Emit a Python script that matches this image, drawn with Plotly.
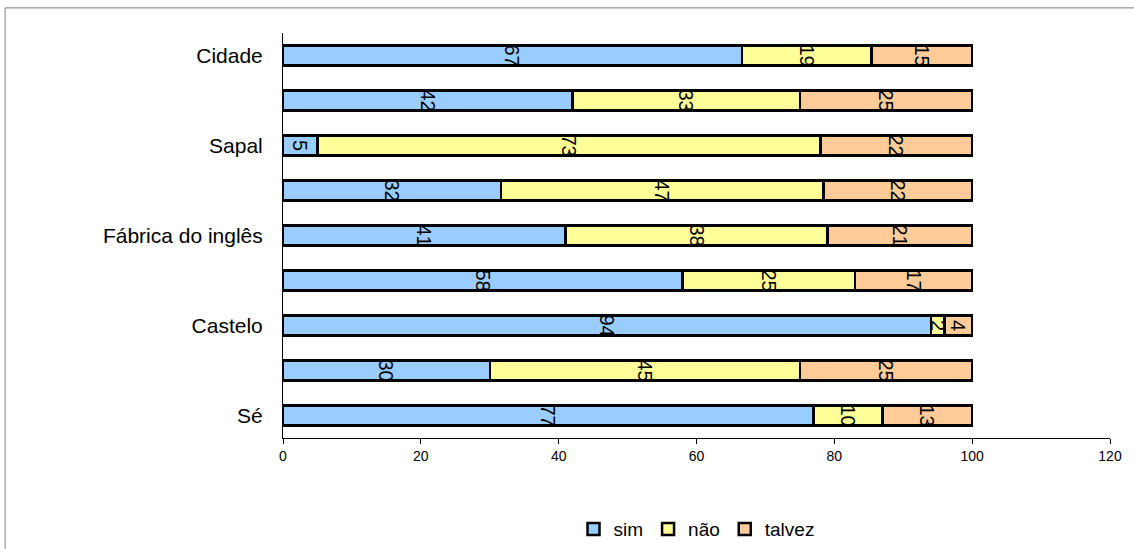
import plotly.graph_objects as go

# Categories from bottom to top; only every other one carries a visible label
categories = ["Sé", "", "Castelo", "", "Fábrica do inglês", "", "Sapal", "", "Cidade"]
positions = list(range(len(categories)))

sim = [77, 30, 94, 58, 41, 31.6, 5, 42, 66.6]
nao = [10, 45, 2, 25, 38, 46.8, 73, 33, 18.8]
talvez = [13, 25, 4, 17, 21, 21.6, 22, 25, 14.6]

series = [
    ("sim", sim, "#99CCFF"),
    ("não", nao, "#FFFF99"),
    ("talvez", talvez, "#FFCC99"),
]

x_ticks = [0, 20, 40, 60, 80, 100, 120]

FONT = "Arial, Liberation Sans, sans-serif"

fig = go.Figure()
for name, values, color in series:
    fig.add_trace(go.Bar(
        name=name,
        y=positions,
        x=values,
        orientation="h",
        marker=dict(color=color, line=dict(color="black", width=2.5)),
        texttemplate="%{x:.0f}",
        textposition="inside",
        insidetextanchor="middle",
        textangle=90,
        constraintext="none",
        textfont=dict(family=FONT, size=20, color="black"),
    ))

fig.update_layout(
    width=1134,
    height=549,
    barmode="stack",
    bargap=0.56,
    paper_bgcolor="white",
    plot_bgcolor="white",
    margin=dict(l=283, r=24, t=33, b=111, autoexpand=False),
    font=dict(family=FONT, color="black"),
    showlegend=True,
    legend=dict(
        orientation="h",
        x=0.5,
        xanchor="center",
        y=-0.225,
        yanchor="middle",
        font=dict(family=FONT, size=19, color="black"),
        itemwidth=30,
        traceorder="normal",
    ),
    xaxis=dict(
        range=[0, 120],
        tickvals=x_ticks,
        ticks="outside",
        ticklen=5,
        tickcolor="black",
        showline=True,
        linecolor="black",
        linewidth=1,
        showgrid=False,
        zeroline=False,
        tickfont=dict(family=FONT, size=14, color="black"),
        fixedrange=True,
    ),
    yaxis=dict(
        range=[-0.5, len(categories) - 0.5],
        tickvals=positions,
        ticktext=categories,
        ticks="",
        showline=True,
        linecolor="black",
        linewidth=1,
        showgrid=False,
        zeroline=False,
        tickfont=dict(family=FONT, size=21, color="black"),
        ticklabelstandoff=15,
        fixedrange=True,
    ),
    shapes=[
        dict(
            type="rect",
            xref="paper",
            yref="paper",
            x0=-0.336,
            x1=1.2,
            y0=-0.6,
            y1=1.062,
            line=dict(color="#808080", width=1),
            fillcolor="rgba(0,0,0,0)",
            layer="below",
        )
    ],
)

fig.write_html("out.html")
